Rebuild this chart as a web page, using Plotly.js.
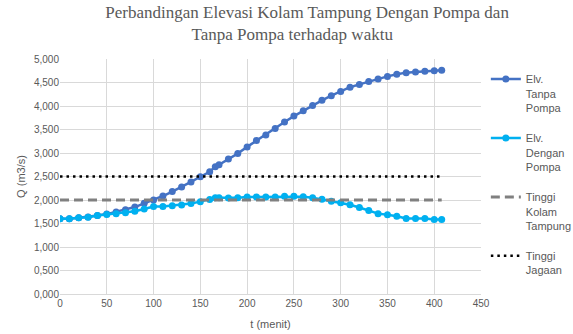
<!DOCTYPE html>
<html>
<head>
<meta charset="utf-8">
<script src="https://cdn.plot.ly/plotly-3.0.1.min.js"></script>
<style>html,body{margin:0;padding:0;background:#fff}#chart{width:573px;height:334px}</style>
</head>
<body>
<div id="chart"></div>
<script>
var t = [0,10,20,30,40,50,60,70,80,90,100,110,120,130,140,150,160,166,170,180,190,200,210,220,230,240,250,260,270,280,290,300,310,320,330,340,350,360,370,380,390,400,408];
var tanpaPompa = [1.600,1.600,1.620,1.640,1.670,1.700,1.745,1.795,1.850,1.930,2.000,2.085,2.180,2.275,2.385,2.495,2.600,2.710,2.750,2.870,2.990,3.130,3.265,3.385,3.520,3.660,3.785,3.900,4.010,4.120,4.220,4.310,4.400,4.460,4.520,4.575,4.630,4.675,4.710,4.725,4.740,4.750,4.760];
var denganPompa = [1.600,1.600,1.620,1.635,1.670,1.690,1.710,1.730,1.760,1.810,1.860,1.860,1.880,1.895,1.925,1.965,2.010,2.050,2.050,2.045,2.050,2.065,2.065,2.065,2.065,2.080,2.080,2.070,2.050,2.015,1.975,1.940,1.900,1.840,1.775,1.710,1.685,1.655,1.605,1.605,1.605,1.585,1.585];
var tinggiKolam = 2.000;
var tinggiJagaan = 2.500;
var xTicks = [0,50,100,150,200,250,300,350,400,450];
var yTicks = [0,0.5,1,1.5,2,2.5,3,3.5,4,4.5,5];

var kolamArr = t.map(function(){return tinggiKolam;});
var jagaanArr = t.map(function(){return tinggiJagaan;});

var traces = [
  {x:t, y:tanpaPompa, name:'Elv.<br>Tanpa<br>Pompa', mode:'lines+markers', type:'scatter',
   line:{color:'#4472C4', width:2.5}, marker:{color:'#4472C4', size:7}},
  {x:t, y:denganPompa, name:'Elv.<br>Dengan<br>Pompa', mode:'lines+markers', type:'scatter',
   line:{color:'#00B0F0', width:2.5}, marker:{color:'#00B0F0', size:7}},
  {x:t, y:kolamArr, name:'Tinggi<br>Kolam<br>Tampung', mode:'lines', type:'scatter',
   line:{color:'#808080', width:3, dash:'9px,5px'}},
  {x:t, y:jagaanArr, name:'Tinggi<br>Jagaan', mode:'lines', type:'scatter',
   line:{color:'#000000', width:2.5, dash:'2.5px,4px'}}
];
traces.forEach(function(tr,i){tr.legendgroup='g'+i;});

var layout = {
  width:573, height:334,
  margin:{l:60, r:92, t:59, b:40, autoexpand:false},
  paper_bgcolor:'#fff', plot_bgcolor:'#fff',
  separators:',.',
  font:{family:'Liberation Sans, Arial, sans-serif', color:'#595959', size:10},
  title:{text:'Perbandingan Elevasi Kolam Tampung Dengan Pompa dan<br>Tanpa Pompa terhadap waktu&nbsp;&nbsp;&nbsp;&nbsp;&nbsp;&nbsp;&nbsp;',
         font:{family:'Liberation Serif, Times New Roman, serif', size:17, color:'#595959'},
         x:0.536, xanchor:'center', y:0.945, yanchor:'top'},
  xaxis:{range:[0,450], tickvals:xTicks, showgrid:true, gridcolor:'#D9D9D9', gridwidth:1,
         zeroline:false, showline:true, linecolor:'#D9D9D9', ticks:'', fixedrange:true,
         title:{text:'t (menit)', font:{size:11, color:'#595959'}, standoff:12},
         tickfont:{size:10, color:'#595959'}},
  yaxis:{range:[0,5], tickvals:yTicks, tickformat:'.3f', showgrid:true, gridcolor:'#D9D9D9', gridwidth:1,
         zeroline:false, showline:false, ticks:'', fixedrange:true,
         title:{text:'Q (m3/s)', font:{size:11, color:'#595959'}, standoff:6},
         tickfont:{size:10, color:'#595959'}},
  showlegend:true,
  legend:{x:1.0115, xanchor:'left', y:0.9725, yanchor:'top', valign:'top', tracegroupgap:13,
          traceorder:'grouped', font:{size:11, color:'#595959'}, bgcolor:'rgba(0,0,0,0)'}
};
Plotly.newPlot('chart', traces, layout, {displayModeBar:false, staticPlot:true});
</script>
</body>
</html>
